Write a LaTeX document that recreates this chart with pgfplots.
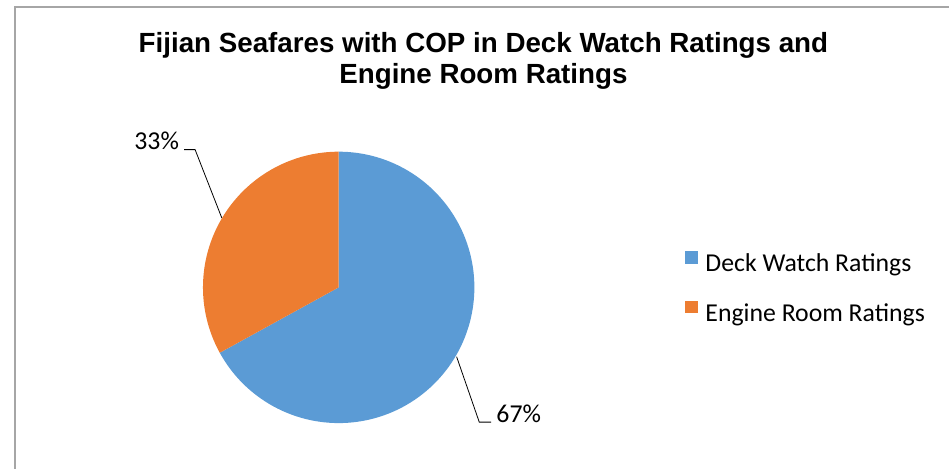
\documentclass[border=0pt]{standalone}
\usepackage{pgfplots}
\usepackage{pgfplotstable}
\pgfplotsset{compat=1.18}
\usepackage{fontspec}
\setmainfont{Carlito}
\newfontfamily\arialfont{Liberation Sans}

\definecolor{deckblue}{RGB}{91,155,213}
\definecolor{engorange}{RGB}{237,125,49}
\definecolor{frame}{RGB}{166,166,166}

\pgfplotstableread{
label value
Deck 67
Engine 33
}\piedata

\begin{document}
\pgfplotstablegetelem{0}{value}\of\piedata \let\va\pgfplotsretval
\pgfplotstablegetelem{1}{value}\of\piedata \let\vb\pgfplotsretval
\pgfmathsetmacro\share{\va/(\va+\vb)}
\pgfmathsetmacro\angA{90-360*\share}
\pgfmathsetmacro\angB{90-360}
\begin{tikzpicture}[x=0.75pt,y=0.75pt]
\path[use as bounding box] (0,0) rectangle (949,473);
\draw[frame, line width=1.4pt] (6,0) -- (6,466) -- (949,466);
\node[anchor=base, font=\arialfont\bfseries\fontsize{21}{25}\selectfont] at (479,420)
  {Fijian Seafares with COP in Deck Watch Ratings and};
\node[anchor=base, font=\arialfont\bfseries\fontsize{21}{25}\selectfont] at (479,389)
  {Engine Room Ratings};
\begin{axis}[
    at={(126.35pt,13.85pt)}, anchor=south west,
    x=102.75pt, y=102.75pt,
    xmin=-1.2, xmax=1.2, ymin=-1.2, ymax=1.2,
    hide axis, clip=false,
    area legend,
    legend image code/.code={\path[#1] (0pt,1.3pt) rectangle (9.75pt,11.05pt);},
    legend cell align=left,
    legend style={draw=none, fill=none, inner sep=0pt,
      at={(1.5615,0.4939)}, anchor=west,
      font=\fontsize{19.5}{23}\selectfont,
      row sep=17pt,
      nodes={inner xsep=6pt, inner ysep=0pt, text height=14pt, text depth=5pt}},
    ]
\addplot[fill=deckblue, draw=none, domain=\angA:90, samples=120]
  ({cos(x)}, {sin(x)}) -- (0,0) -- cycle;
\addlegendentry{Deck Watch Ratings}
\addplot[fill=engorange, draw=none, domain=\angB:\angA, samples=80]
  ({cos(x)}, {sin(x)}) -- (0,0) -- cycle;
\addlegendentry{Engine Room Ratings}
\draw[black, line width=0.6pt] (-1.139,1.015) -- (-1.058,1.015) -- (-0.861,0.511);
\draw[black, line width=0.6pt] (0.869,-0.511) -- (1.036,-0.993) -- (1.124,-0.993);
\node[anchor=base east, inner sep=0pt, font=\fontsize{19.5}{23}\selectfont] at (-1.1752,1.0146) {33\%};
\node[anchor=base west, inner sep=0pt, font=\fontsize{19.5}{23}\selectfont] at (1.1606,-0.9927) {67\%};
\end{axis}
\end{tikzpicture}
\end{document}
